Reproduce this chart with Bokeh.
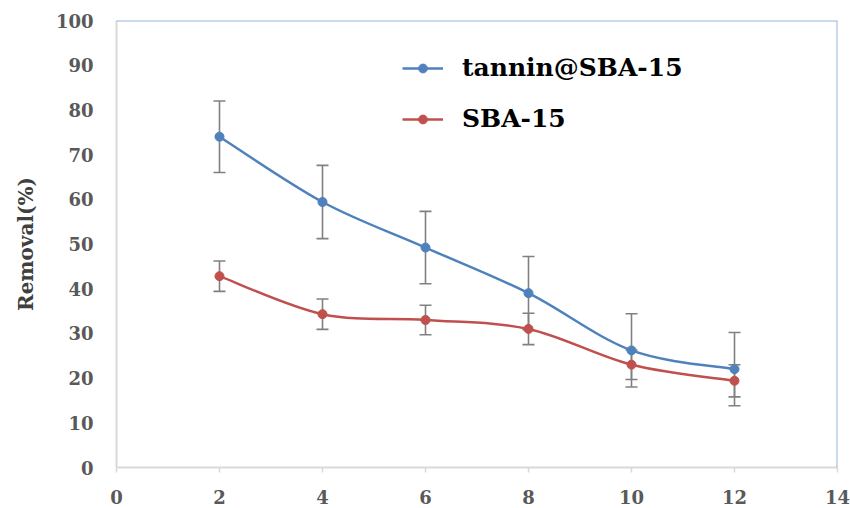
from bokeh.plotting import figure
from bokeh.models import (Range1d, FixedTicker, Whisker, TeeHead, ColumnDataSource,
                          Span, Legend, LegendItem)
from bokeh.embed import file_html
from bokeh.resources import INLINE

# ---- data ----
time_x = [2, 4, 6, 8, 10, 12]
tannin_sba = [74.0, 59.4, 49.2, 39.0, 26.2, 22.0]
tannin_err = [8.0, 8.2, 8.1, 8.2, 8.2, 8.2]
sba = [42.8, 34.3, 33.0, 31.0, 23.0, 19.4]
sba_err = [3.4, 3.4, 3.3, 3.5, 3.3, 3.6]
x_ticks = [0, 2, 4, 6, 8, 10, 12, 14]
y_ticks = [0, 10, 20, 30, 40, 50, 60, 70, 80, 90, 100]
series_names = ["tannin@SBA-15", "SBA-15"]

BLUE = "#4F81BD"
RED = "#C0504D"
GREY_ERR = "#808080"
FONT = "DejaVu Serif"
NAN = float("nan")

p = figure(width=850, height=508, output_backend="svg", toolbar_location=None,
           x_range=Range1d(0, 14), y_range=Range1d(0, 100),
           min_border_left=116, min_border_right=13, min_border_top=20,
           min_border_bottom=41)
p.outline_line_color = None
p.xgrid.visible = False
p.ygrid.visible = False
p.background_fill_color = "white"
p.border_fill_color = "white"

# axes
p.xaxis.ticker = FixedTicker(ticks=x_ticks)
p.yaxis.ticker = FixedTicker(ticks=y_ticks)
p.xaxis.minor_tick_line_color = None
p.yaxis.minor_tick_line_color = None
for ax in (p.xaxis, p.yaxis):
    ax.axis_line_color = "#D9D9D9"
    ax.axis_line_width = 2
    ax.major_tick_line_color = "#D9D9D9"
    ax.major_tick_line_width = 1.5
    ax.major_label_text_font = FONT
    ax.major_label_text_font_style = "bold"
    ax.major_label_text_font_size = "18px"
    ax.major_label_text_color = "#595959"
p.xaxis.major_tick_in = 0
p.xaxis.major_tick_out = 5
p.xaxis.major_label_standoff = 17
p.yaxis.major_tick_in = 0
p.yaxis.major_tick_out = 0
p.yaxis.major_label_standoff = 23
p.yaxis.axis_label = "Removal(%)"
p.yaxis.axis_label_text_font = FONT
p.yaxis.axis_label_text_font_style = "bold"
p.yaxis.axis_label_text_font_size = "20px"
p.yaxis.axis_label_text_color = "#404040"
p.yaxis.axis_label_standoff = 15

# plot-area border (top / right, blue)
p.add_layout(Span(location=100, dimension="width", line_color="#95B3D7", line_width=2))
p.add_layout(Span(location=14, dimension="height", line_color="#95B3D7", line_width=2))


def smooth_segments(xs, ys):
    n = len(xs)
    x0, y0, x1, y1, cx0, cy0, cx1, cy1 = [], [], [], [], [], [], [], []
    for i in range(n - 1):
        pm = i - 1 if i > 0 else i
        pp = i + 2 if i + 2 < n else i + 1
        x0.append(xs[i]); y0.append(ys[i])
        x1.append(xs[i + 1]); y1.append(ys[i + 1])
        cx0.append(xs[i] + (xs[i + 1] - xs[pm]) / 6.0)
        cy0.append(ys[i] + (ys[i + 1] - ys[pm]) / 6.0)
        cx1.append(xs[i + 1] - (xs[pp] - xs[i]) / 6.0)
        cy1.append(ys[i + 1] - (ys[pp] - ys[i]) / 6.0)
    return dict(x0=x0, y0=y0, x1=x1, y1=y1, cx0=cx0, cy0=cy0, cx1=cx1, cy1=cy1)


items = []
for name, vals, errs, col in [(series_names[0], tannin_sba, tannin_err, BLUE),
                              (series_names[1], sba, sba_err, RED)]:
    src = ColumnDataSource(dict(x=time_x, y=vals,
                                lo=[v - e for v, e in zip(vals, errs)],
                                hi=[v + e for v, e in zip(vals, errs)]))
    w = Whisker(source=src, base="x", lower="lo", upper="hi",
                line_color=GREY_ERR, line_width=1.6,
                lower_head=TeeHead(size=12, line_color=GREY_ERR, line_width=1.6),
                upper_head=TeeHead(size=12, line_color=GREY_ERR, line_width=1.6))
    p.add_layout(w)
    items.append((name, vals, col, src))

legend_items = []
for name, vals, col, src in items:
    seg = smooth_segments(time_x, vals)
    p.bezier(x0="x0", y0="y0", x1="x1", y1="y1", cx0="cx0", cy0="cy0",
             cx1="cx1", cy1="cy1", source=ColumnDataSource(seg),
             line_color=col, line_width=2.5)
    sc = p.scatter("x", "y", source=src, size=9, fill_color=col, line_color=col)
    lr = p.line(x=[NAN], y=[NAN], line_color=col, line_width=2.5)
    legend_items.append(LegendItem(label=name, renderers=[lr, sc]))

legend = Legend(items=legend_items, location=(286, 334), padding=0, spacing=22,
                glyph_width=41, glyph_height=22, label_height=22, label_standoff=19,
                label_text_font=FONT, label_text_font_style="bold",
                label_text_font_size="25px", label_text_color="black",
                border_line_color=None, background_fill_alpha=0)
p.add_layout(legend)

open("out.html", "w").write(file_html(p, INLINE))
